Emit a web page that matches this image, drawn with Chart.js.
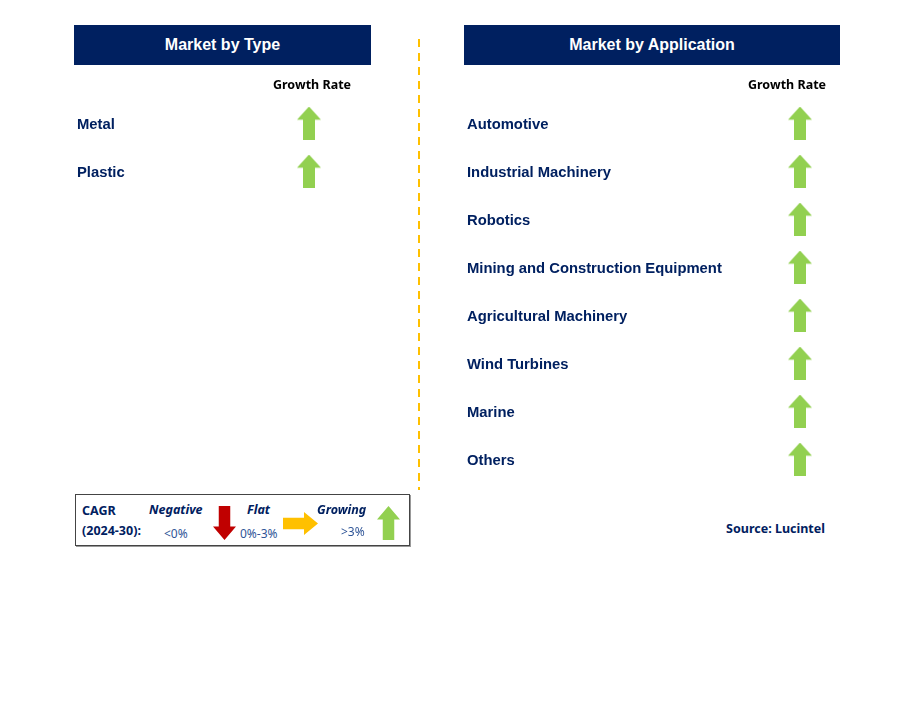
<!DOCTYPE html>
<html>
<head>
<meta charset="utf-8">
<script src="https://cdn.jsdelivr.net/npm/chart.js@4.4.1/dist/chart.umd.min.js"></script>
<style>
    body { margin: 0; width: 904px; height: 706px; background: #fff; position: relative; overflow: hidden; font-family: "Liberation Sans", Arial, sans-serif; }
    .abs { position: absolute; }
    .header { background: #002060; color: #fff; font-weight: bold; font-size: 16px; text-align: center; line-height: 40px; height: 40px; top: 25px; }
    .cal { font-family: "Noto Sans", "Open Sans", sans-serif; }
    .navy { color: #002060; }
    .legend { left: 75px; top: 494px; width: 333px; height: 50px; border: 1px solid #444; box-shadow: 1px 1px 0 #999; }
    .legend span { position: absolute; white-space: nowrap; }
    .lt { font-weight: bold; font-style: italic; font-size: 12.5px; color: #002060; }
    .lv { font-size: 12px; color: #2f5597; }
</style>
</head>
<body>
<div class="abs header" style="left:74px; width:297px;">Market by Type</div>
<div class="abs header" style="left:464px; width:376px;">Market by Application</div>

<svg class="abs" style="left:0; top:0;" width="904" height="706">
    <line x1="419" y1="39" x2="419" y2="490" stroke="#ffc000" stroke-width="2" stroke-dasharray="8 6"/>
</svg>

<canvas id="type-chart" class="abs" style="left:77px; top:70px;" width="284" height="125"></canvas>
<canvas id="app-chart" class="abs" style="left:467px; top:70px;" width="376" height="413"></canvas>

<div class="abs legend cal">
    <span class="navy" style="left:6px; top:7px; font-weight:bold; font-size:12.5px;">CAGR</span>
    <span class="navy" style="left:6px; top:27px; font-weight:bold; font-size:12.5px;">(2024-30):</span>
    <span class="lt" style="left:73px; top:6px;">Negative</span>
    <span class="lv" style="left:88px; top:30px;">&lt;0%</span>
    <canvas id="leg-neg" style="position:absolute; left:137px; top:11px;" width="23" height="34"></canvas>
    <span class="lt" style="left:171px; top:6px;">Flat</span>
    <span class="lv" style="left:164px; top:30px;">0%-3%</span>
    <canvas id="leg-flat" style="position:absolute; left:207px; top:17px;" width="35" height="23"></canvas>
    <span class="lt" style="left:241px; top:6px;">Growing</span>
    <span class="lv" style="left:265px; top:28px;">&gt;3%</span>
    <canvas id="leg-grow" style="position:absolute; left:301px; top:11px;" width="23" height="34"></canvas>
</div>

<div class="abs cal navy" style="right:79px; top:520px; font-weight:bold; font-size:12.5px;">Source: Lucintel</div>

<script>
// Segment names and growth outlook (from the picture)
const types = ['Metal', 'Plastic'];
const typeGrowth = ['growing', 'growing'];

const applications = ['Automotive', 'Industrial Machinery', 'Robotics', 'Mining and Construction Equipment',
    'Agricultural Machinery', 'Wind Turbines', 'Marine', 'Others'];
const appGrowth = ['growing', 'growing', 'growing', 'growing', 'growing', 'growing', 'growing', 'growing'];

const columnLabels = ['Growth Rate'];

const NAVY = '#002060';
const arrowColors = { growing: '#92d050', flat: '#ffc000', negative: '#c00000' };

// Draw a block arrow on a canvas (up, down or right)
function drawArrow(cv, dir, color) {
    const c = cv.getContext('2d');
    const w = cv.width, h = cv.height;
    c.fillStyle = color;
    c.beginPath();
    if (dir === 'up') {
        const head = h * 0.4, shaft = w * 0.5;
        c.moveTo(w / 2, 0); c.lineTo(w, head); c.lineTo((w + shaft) / 2, head);
        c.lineTo((w + shaft) / 2, h); c.lineTo((w - shaft) / 2, h); c.lineTo((w - shaft) / 2, head);
        c.lineTo(0, head);
    } else if (dir === 'down') {
        const head = h * 0.4, shaft = w * 0.5;
        c.moveTo(w / 2, h); c.lineTo(w, h - head); c.lineTo((w + shaft) / 2, h - head);
        c.lineTo((w + shaft) / 2, 0); c.lineTo((w - shaft) / 2, 0); c.lineTo((w - shaft) / 2, h - head);
        c.lineTo(0, h - head);
    } else {
        const head = w * 0.4, shaft = h * 0.5;
        c.moveTo(w, h / 2); c.lineTo(w - head, 0); c.lineTo(w - head, (h - shaft) / 2);
        c.lineTo(0, (h - shaft) / 2); c.lineTo(0, (h + shaft) / 2); c.lineTo(w - head, (h + shaft) / 2);
        c.lineTo(w - head, h);
    }
    c.closePath();
    c.fill();
    return cv;
}

function makeArrow(kind) {
    const cv = document.createElement('canvas');
    if (kind === 'flat') { cv.width = 35; cv.height = 23; return drawArrow(cv, 'right', arrowColors.flat); }
    cv.width = 24; cv.height = 33;
    return drawArrow(cv, kind === 'growing' ? 'up' : 'down', arrowColors[kind]);
}

const arrowImages = {
    growing: makeArrow('growing'),
    flat: makeArrow('flat'),
    negative: makeArrow('negative')
};

// Legend icons
drawArrow(document.getElementById('leg-neg'), 'down', arrowColors.negative);
drawArrow(document.getElementById('leg-flat'), 'right', arrowColors.flat);
drawArrow(document.getElementById('leg-grow'), 'up', arrowColors.growing);

// Build one growth table chart
function buildTable(canvasId, rows, growth, labelWidth, headShift) {
    const ctx = document.getElementById(canvasId);
    return new Chart(ctx, {
        type: 'line',
        data: {
            datasets: [{
                data: rows.map(r => ({ x: columnLabels[0], y: r })),
                showLine: false,
                pointStyle: c => arrowImages[growth[c.dataIndex]],
                pointRadius: 12
            }]
        },
        options: {
            responsive: false,
            animation: false,
            events: [],
            layout: { padding: 0, autoPadding: false },
            plugins: { legend: { display: false }, tooltip: { enabled: false } },
            scales: {
                x: {
                    type: 'category',
                    labels: columnLabels,
                    position: 'top',
                    offset: true,
                    grid: { display: false },
                    border: { display: false },
                    ticks: {
                        color: '#000',
                        padding: -2,
                        labelOffset: headShift,
                        font: { family: '"Noto Sans", "Open Sans", sans-serif', weight: 'bold', size: 12.5 }
                    },
                    afterFit: s => { s.height = 29; s.paddingLeft = 0; s.paddingRight = 0; }
                },
                y: {
                    type: 'category',
                    labels: rows,
                    offset: true,
                    grid: { display: false },
                    border: { display: false },
                    ticks: {
                        color: NAVY,
                        crossAlign: 'far',
                        padding: 0,
                        labelOffset: 2,
                        font: { family: '"Liberation Sans", Arial, sans-serif', weight: 'bold', size: 14.8 }
                    },
                    afterFit: s => { s.width = labelWidth; s.paddingTop = 0; s.paddingBottom = 0; }
                }
            }
        }
    });
}

buildTable('type-chart', types, typeGrowth, 180, 3);
buildTable('app-chart', applications, appGrowth, 290, -13);
</script>
</body>
</html>
